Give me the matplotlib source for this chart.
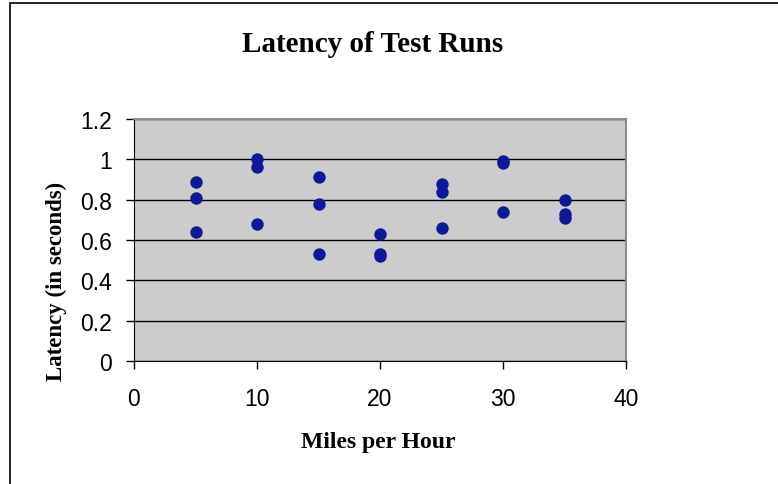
import matplotlib.pyplot as plt
from matplotlib.patches import Rectangle

# Data
mph = [5, 5, 5, 10, 10, 10, 15, 15, 15, 20, 20, 20, 25, 25, 25, 30, 30, 30, 35, 35, 35]
latency = [0.89, 0.81, 0.64, 1.0, 0.96, 0.68, 0.91, 0.78, 0.53, 0.63, 0.53, 0.52,
           0.88, 0.84, 0.66, 0.99, 0.98, 0.74, 0.80, 0.73, 0.71]
x_ticks = [0, 10, 20, 30, 40]
y_ticks = [0, 0.2, 0.4, 0.6, 0.8, 1, 1.2]
y_labels = ["0", "0.2", "0.4", "0.6", "0.8", "1", "1.2"]

W, H = 778, 485
fig = plt.figure(figsize=(W / 100, H / 100), dpi=100)

# outer chart frame (runs off the right and bottom edges)
fig.patches.append(Rectangle((10 / W, -0.05), 1.1, 1.05 - 4 / H,
                             transform=fig.transFigure, fill=False,
                             edgecolor="black", linewidth=1.2))

ax = fig.add_axes([134 / W, 1 - 362 / H, (626 - 134) / W, (362 - 120) / H])
ax.set_facecolor("#cccccc")
ax.scatter(mph, latency, s=80, color="#10189a", zorder=3, linewidths=0)

ax.set_xlim(0, 40)
ax.set_ylim(0, 1.2)
ax.set_xticks(x_ticks)
ax.set_yticks(y_ticks)
ax.set_yticklabels(y_labels)
ax.yaxis.grid(True, color="black", linewidth=1)
ax.set_axisbelow(True)

for s in ["top", "right"]:
    ax.spines[s].set_color("#8c8c8c")
    ax.spines[s].set_linewidth(1.5)
for s in ["left", "bottom"]:
    ax.spines[s].set_color("black")

ax.tick_params(direction="out", length=6, width=1, labelsize=16.5)
ax.tick_params(axis="y", pad=10)
ax.tick_params(axis="x", pad=13)
for lbl in ax.get_xticklabels() + ax.get_yticklabels():
    lbl.set_fontfamily("Liberation Sans")

# axis titles placed like the Excel chart (y title sits below the plot centre)
fig.text(378 / W, 1 - 443 / H, "Miles per Hour", fontfamily="Liberation Serif",
         fontweight="bold", fontsize=17, ha="center", va="center")
fig.text(56 / W, 1 - 281 / H, "Latency (in seconds)", fontfamily="Liberation Serif",
         fontweight="bold", fontsize=16.5, ha="center", va="center", rotation=90)

fig.text(373 / W, 1 - 45 / H, "Latency of Test Runs", fontfamily="Liberation Serif",
         fontweight="bold", fontsize=21, ha="center", va="center")

fig.savefig("out.png", dpi=100)
